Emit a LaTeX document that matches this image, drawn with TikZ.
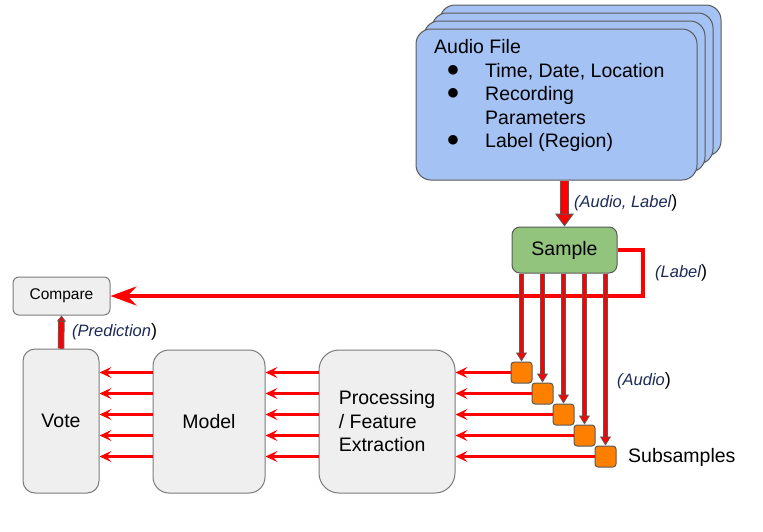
\documentclass[tikz,border=0pt]{standalone}
\usepackage{fontspec}
\setmainfont{Liberation Sans}
\newfontfamily\symf{DejaVu Sans}
\usetikzlibrary{arrows.meta}
\definecolor{blueF}{HTML}{A4C2F4}
\definecolor{greenF}{HTML}{93C47D}
\definecolor{greyF}{HTML}{EFEFEF}
\definecolor{orangeF}{HTML}{FF7F00}
\definecolor{edge}{HTML}{5A5A5A}
\definecolor{redA}{HTML}{FF0000}
\definecolor{navy}{HTML}{1C2A55}
\newcommand\fA{\fontsize{19.5}{23.5}\selectfont}
\newcommand\fB{\fontsize{16.5}{20}\selectfont}
\newcommand\fC{\fontsize{15.5}{19}\selectfont}
\newcommand\clp{{\upshape\color{black}\fontsize{18}{20}\selectfont)}}
\begin{document}
\begin{tikzpicture}[x=1pt,y=-1pt,
  stackbox/.style={draw=edge, line width=1pt, fill=blueF, rounded corners=15pt},
  procbox/.style={draw=edge!80, line width=1pt, fill=greyF, rounded corners=#1, align=left, inner sep=0pt, font=\fA},
  samplebox/.style={draw=edge, line width=1pt, fill=greenF, rounded corners=8pt, inner sep=0pt, font=\fA},
  subbox/.style={draw=edge, line width=1pt, fill=orangeF, rounded corners=3pt, minimum size=21pt, inner sep=0pt},
  lbl/.style={font=\fB\itshape, text=navy, anchor=west, inner sep=0pt},
  bigarrow/.style={draw=redA, line width=7pt,
    -{Triangle[length=13pt,width=19pt,fill=redA,color=edge,line width=1pt]},
    preaction={draw=edge, line width=9pt, arrows=-, shorten >=11pt}},
  midarrow/.style={draw=redA, line width=3.6pt,
    -{Triangle[length=9pt,width=11pt,fill=redA,color=edge,line width=0.8pt]},
    preaction={draw=edge, line width=5.4pt, arrows=-, shorten >=7pt}},
  predarrow/.style={draw=redA, line width=4.5pt,
    -{Triangle[length=6pt,width=9pt,fill=redA,color=edge,line width=0.8pt]},
    preaction={draw=edge, line width=6.5pt, arrows=-, shorten >=4pt}},
  labelarrow/.style={draw=redA, line width=4pt, -{Stealth[length=26pt,width=19pt,inset=9pt]}},
  thinarrow/.style={draw=redA, line width=2.8pt, -{Stealth[length=12pt,width=11pt,inset=5pt]}}
]
\useasboundingbox (0,0) rectangle (763,531);

% audio file stack
\draw[stackbox] (440,5) rectangle (721,156);
\draw[stackbox] (432,13) rectangle (713,164);
\draw[stackbox] (424,21) rectangle (705,172);
\node[stackbox, minimum width=281pt, minimum height=151pt, inner sep=0pt] (audio) at (556.5,104.5) {};
\node[anchor=base west, font=\fA, inner sep=0pt] (t0) at (434,53) {Audio File};
\node[font=\symf\fontsize{12.5}{14}\selectfont, inner sep=0pt] (b1) at (453,70) {●};
\node[font=\symf\fontsize{12.5}{14}\selectfont, inner sep=0pt] (b2) at (453,93) {●};
\node[font=\symf\fontsize{12.5}{14}\selectfont, inner sep=0pt] (b3) at (453,140) {●};
\node[anchor=base west, font=\fA, inner sep=0pt] (t1) at (485,77) {Time, Date, Location};
\node[anchor=base west, font=\fA, inner sep=0pt] (t2) at (485,100) {Recording};
\node[anchor=base west, font=\fA, inner sep=0pt] (t3) at (485,124) {Parameters};
\node[anchor=base west, font=\fA, inner sep=0pt] (t4) at (485,147) {Label (Region)};

% sample
\node[samplebox, minimum width=105pt, minimum height=46pt] (sample) at (564.5,250) {Sample};

% compare
\node[procbox=6pt, minimum width=97pt, minimum height=38pt, font=\fC] (compare) at (61.5,296) {Compare};

% vote, model, processing
\node[procbox=12pt, minimum width=76pt, minimum height=144pt] (vote) at (61,421) {Vote};
\node[procbox=16pt, minimum width=112pt, minimum height=143pt] (model) at (209,421.5) {Model};
\node[procbox=20pt, minimum width=136pt, minimum height=143pt] (proc) at (387,421.5) {Processing\\/ Feature\\Extraction};

% subsamples
\node[subbox] (s1) at (521.5,372.5) {};
\node[subbox] (s2) at (542.5,393.5) {};
\node[subbox] (s3) at (563.5,414.5) {};
\node[subbox] (s4) at (584.5,435.5) {};
\node[subbox] (s5) at (605.5,456.5) {};
\node[anchor=west, font=\fA, inner sep=0pt] (subl) at (628,457) {Subsamples};

% label path
\coordinate (lc) at (643,296);
\draw[labelarrow] (sample.east) -| (lc) -- (compare.east);

% audio -> sample
\draw[bigarrow] (audio.south -| sample.north) -- (sample.north);

% sample -> subsamples, subsamples -> processing -> model -> vote
\foreach \s in {s1,s2,s3,s4,s5}{
  \draw[midarrow] (sample.south -| \s.north) -- (\s.north);
  \draw[thinarrow] (\s.west) -- (\s.west -| proc.east);
  \draw[thinarrow] (\s.west -| proc.west) -- (\s.west -| model.east);
  \draw[thinarrow] (\s.west -| model.west) -- (\s.west -| vote.east);
}

% vote -> compare
\draw[predarrow] (vote.north) -- (compare.south);

% labels
\node[lbl] (la1) at (574,203) {(Audio, Label\clp};
\node[lbl] (la2) at (655,273) {(Label\clp};
\node[lbl] (la3) at (72,332) {(Prediction\clp};
\node[lbl] (la4) at (617,381) {(Audio\clp};
\end{tikzpicture}
\end{document}
